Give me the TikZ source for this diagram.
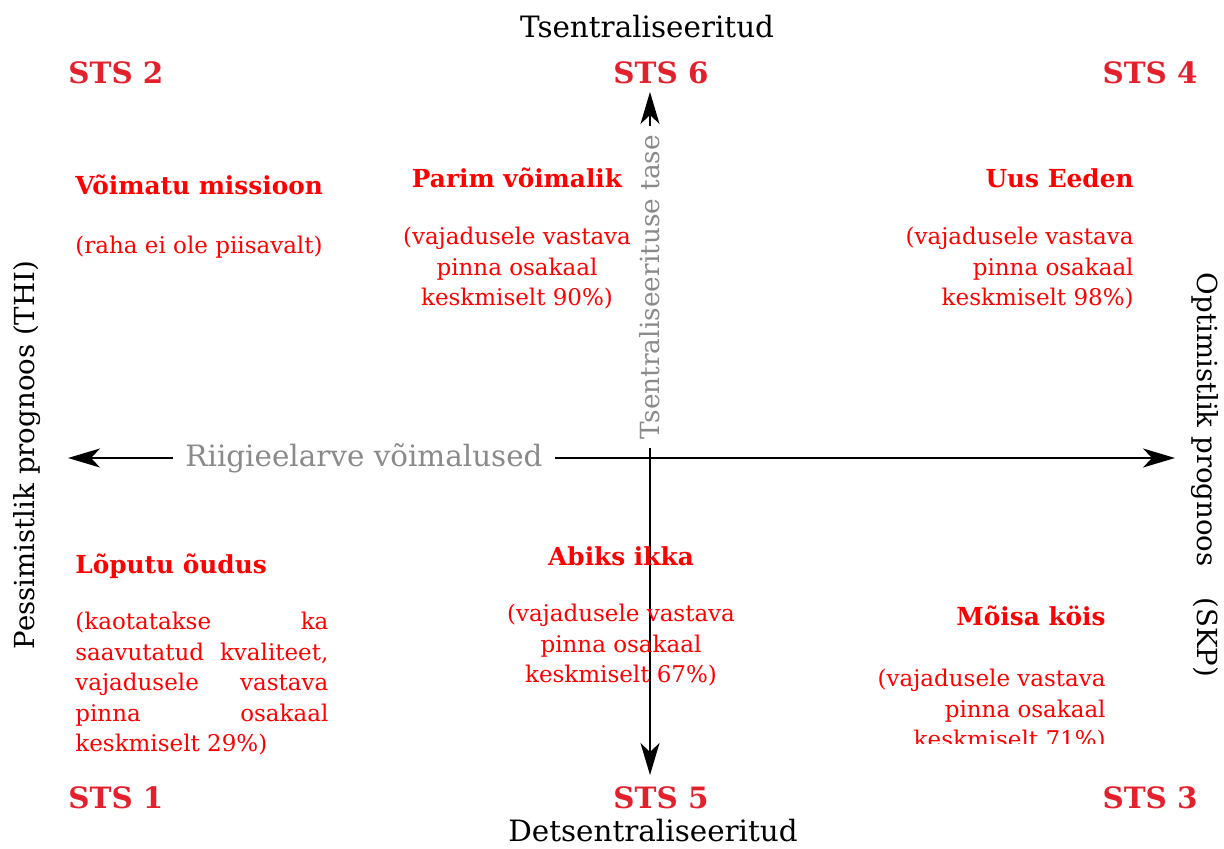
\documentclass[tikz,border=0pt]{standalone}
\usepackage{fontspec}
\setmainfont{DejaVu Serif}
\usetikzlibrary{arrows.meta, positioning}

\definecolor{stsred}{HTML}{E3202B}
\definecolor{txtred}{HTML}{FF0000}
\definecolor{axisgray}{HTML}{8A8A8A}

\begin{document}
\begin{tikzpicture}
    [
        x=0.5pt, y=-0.5pt,
        sts label/.style = {
            text=stsred, font=\fontsize{14.7}{16}\selectfont\bfseries, inner sep=0pt
        },
        scenario/.style = {
            text=txtred, font=\fontsize{12.4}{14}\selectfont\bfseries, inner sep=0pt
        },
        desc/.style = {
            text=txtred, font=\fontsize{11.5}{15.2}\selectfont, inner sep=0pt
        },
        axis text/.style = {
            font=\fontsize{14.7}{16}\selectfont, inner sep=0pt
        },
        side text/.style = {
            font=\fontsize{13.8}{16}\selectfont, inner sep=0pt
        },
        axis/.style = {
            draw=black, line width=1pt, -{Stealth[length=16pt, width=9.5pt, inset=4.5pt]}
        },
    ]
    \useasboundingbox (0,0) rectangle (1224,849);
    %\draw[help lines] (0,0) grid[step=100] (1224,849);

    % titles
    \node[axis text] (tsentr) at (647,27) {Tsentraliseeritud};
    \node[axis text] (detsentr) at (653,831) {Detsentraliseeritud};
    \node[side text, rotate=90] (pessim) at (27,455) {Pessimistlik prognoos (THI)};
    \node[side text, rotate=-90] (optim) at (1205,475) {Optimistlik prognoos\hspace{0.8em} (SKP)};

    % corner labels
    \node[sts label, anchor=base west] (sts2) at (68,84) {STS 2};
    \node[sts label, anchor=base] (sts6) at (661,84) {STS 6};
    \node[sts label, anchor=base east] (sts4) at (1198,84) {STS 4};
    \node[sts label, anchor=base west] (sts1) at (68,808) {STS 1};
    \node[sts label, anchor=base] (sts5) at (661,808) {STS 5};
    \node[sts label, anchor=base east] (sts3) at (1198,808) {STS 3};

    % axes
    \coordinate (cross) at (650,458);
    \coordinate (leftend) at (68,458);
    \coordinate (rightend) at (1175,458);
    \coordinate (vtop) at (650,448);
    \coordinate (vbottom) at (650,775);
    \coordinate (uptip) at (650,92);
    \node[axis text, text=axisgray, inner xsep=6pt] (riik) at (364,458) {Riigieelarve võimalused};
    \node[axis text, font=\fontsize{13.2}{15}\selectfont, text=axisgray, rotate=90, inner xsep=4pt] (tase) at (650,287) {Tsentraliseerituse tase};
    \draw[axis] (riik.west |- cross) -- (leftend);
    \draw[axis] (riik.east |- cross) -- (rightend);
    \draw[axis] (vtop) -- (vbottom);
    \draw[axis] (tase.east) -- (uptip);

    % STS 2
    \node[scenario, anchor=base west] (voimatu) at (75,195) {Võimatu missioon};
    \node[desc, anchor=base west] (voimatu text) at (75,254) {(raha ei ole piisavalt)};

    % STS 6
    \node[scenario, anchor=base] (parim) at (517,188) {Parim võimalik};
    \node[desc, anchor=north, align=center] (parim text) at (517,227)
        {(vajadusele vastava\\pinna osakaal\\keskmiselt 90\%)};

    % STS 4
    \node[scenario, anchor=base east] (eeden) at (1134,188) {Uus Eeden};
    \node[desc, anchor=north east, align=right] (eeden text) at (1134,227)
        {(vajadusele vastava\\pinna osakaal\\keskmiselt 98\%)};

    % STS 1
    \node[scenario, anchor=base west] (loputu) at (75,573) {Lõputu õudus};
    \node[desc, anchor=north west, align=left] (loputu text) at (75,612)
        {\makebox[126.5pt][s]{(kaotatakse ka}\\
         \makebox[126.5pt][s]{saavutatud kvaliteet,}\\
         \makebox[126.5pt][s]{vajadusele vastava}\\
         \makebox[126.5pt][s]{pinna osakaal}\\
         keskmiselt 29\%)};

    % STS 5
    \node[scenario, anchor=base] (abiks) at (621,565) {Abiks ikka};
    \node[desc, anchor=north, align=center] (abiks text) at (621,604)
        {(vajadusele vastava\\pinna osakaal\\keskmiselt 67\%)};

    % STS 3
    \node[scenario, anchor=base east] (moisa) at (1106,625) {Mõisa köis};
    \begin{scope}
        \clip (860,640) rectangle (1120,743);
        \node[desc, anchor=north east, align=right] (moisa text) at (1106,669)
            {(vajadusele vastava\\pinna osakaal\\keskmiselt 71\%)};
    \end{scope}
\end{tikzpicture}
\end{document}
